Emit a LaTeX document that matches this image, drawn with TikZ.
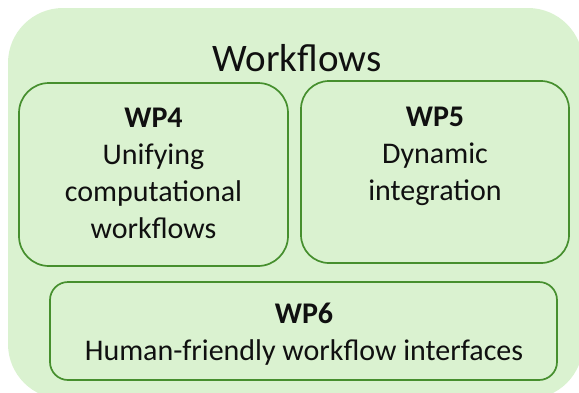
\documentclass[tikz,border=0pt]{standalone}
\usepackage{fontspec}
\setmainfont{Carlito}
\usepackage{tikz}
\usetikzlibrary{positioning}
\definecolor{wfback}{HTML}{DAF2D0}
\definecolor{wfline}{HTML}{468F2E}
\definecolor{wftext}{HTML}{101010}

\begin{document}
\begin{tikzpicture}[x=1pt, y=-1pt,
	wpbox/.style={draw=wfline, line width=1.7pt, fill=wfback},
	wptext/.style={anchor=base, align=center, text=wftext, inner sep=0pt, font=\fontsize{30}{36.7}\selectfont}]
			\useasboundingbox (0,0) rectangle (579,392);
			\clip (0,0) rectangle (579,392);
			\fill [wfback, rounded corners=55pt] (8,8) rectangle (583,399);
			\node [anchor=base, text=wftext, font=\fontsize{39}{46}\selectfont] (title) at (297,71) {Workflows};
			
			\foreach \xa/\ya/\xb/\yb/\r in {19/83/288/266/30, 301/81/569/263/28, 50/282/557/380/18}
			\draw [wpbox, rounded corners=\r pt] (\xa,\ya) rectangle (\xb,\yb);
			
			\node [wptext] (wp4) at (153.5,238) {\textbf{WP4}\\Unifying\\computational\\workflows};
			\node [wptext] (wp5) at (435,200) {\textbf{WP5}\\Dynamic\\integration};
			\node [wptext] (wp6) at (304,360) {\textbf{WP6}\\Human-friendly workflow interfaces};
			\end{tikzpicture}
\end{document}
